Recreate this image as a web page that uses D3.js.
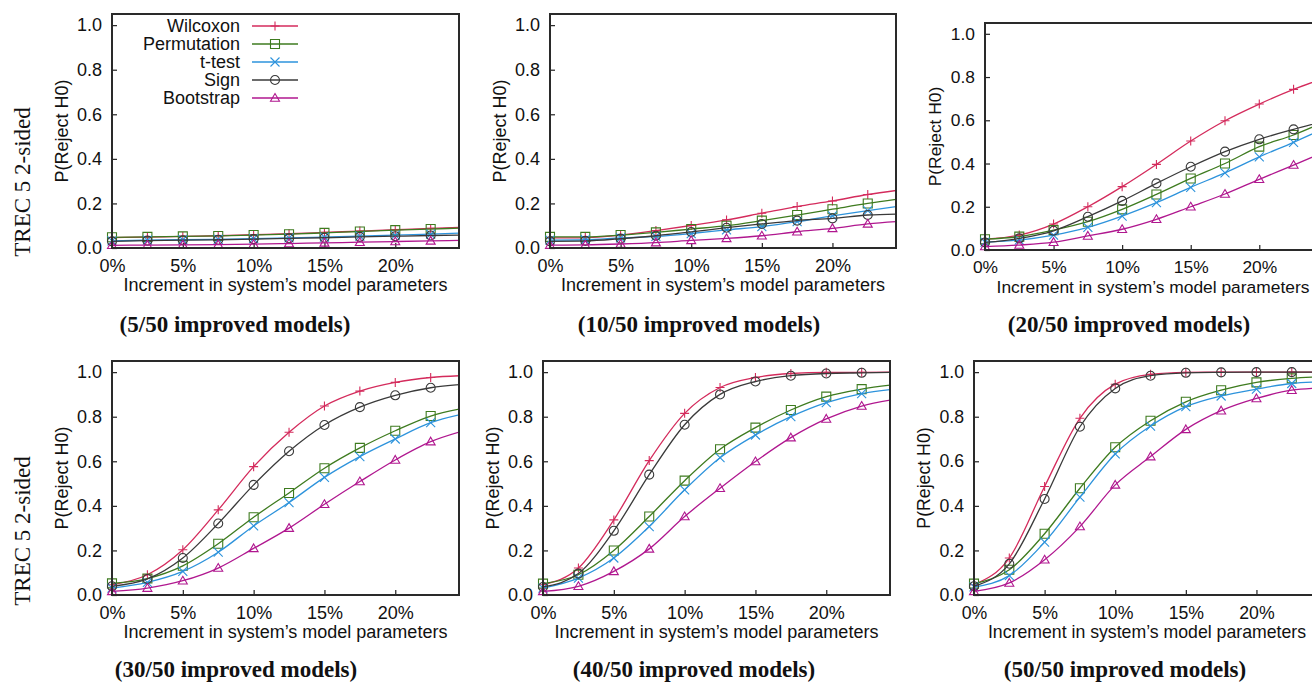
<!DOCTYPE html>
<html>
<head>
<meta charset="utf-8">
<script src="https://cdn.jsdelivr.net/npm/d3@7"></script>
<style>
  html, body { margin: 0; padding: 0; background: #fff; }
  svg { display: block; }
  .ax text { font-family: "Liberation Sans", Arial, sans-serif; fill: #111; }
</style>
</head>
<body>
<svg id="chart" width="1312" height="682"></svg>
<script>
// x values (% increment in model parameters) at which each curve is read
const increments = [0, 2.5, 5, 7.5, 10, 12.5, 15, 17.5, 20, 22.5, 25];
const improved = ["5/50", "10/50", "20/50", "30/50", "40/50", "50/50"];
const methods = ["Wilcoxon", "Permutation", "t-test", "Sign", "Bootstrap"];
const xTicks = [0, 5, 10, 15, 20];
const yTicks = [0, 0.2, 0.4, 0.6, 0.8, 1.0];

// one row per panel (5/50 ... 50/50), one value per increment
const wilcoxon = [
  [0.047, 0.049, 0.052, 0.055, 0.060, 0.064, 0.070, 0.076, 0.082, 0.088, 0.093],
  [0.045, 0.047, 0.058, 0.078, 0.101, 0.126, 0.156, 0.186, 0.211, 0.240, 0.262],
  [0.050, 0.069, 0.120, 0.200, 0.293, 0.396, 0.504, 0.598, 0.675, 0.743, 0.800],
  [0.046, 0.091, 0.203, 0.382, 0.576, 0.730, 0.848, 0.915, 0.954, 0.976, 0.985],
  [0.046, 0.121, 0.337, 0.603, 0.815, 0.931, 0.976, 0.994, 0.999, 0.999, 1.000],
  [0.046, 0.166, 0.487, 0.793, 0.946, 0.990, 0.999, 1.000, 1.000, 1.000, 1.000]
];
const permutation = [
  [0.048, 0.050, 0.052, 0.054, 0.058, 0.062, 0.068, 0.074, 0.080, 0.085, 0.090],
  [0.050, 0.050, 0.058, 0.070, 0.085, 0.100, 0.123, 0.148, 0.174, 0.200, 0.222],
  [0.050, 0.062, 0.092, 0.131, 0.188, 0.257, 0.331, 0.400, 0.478, 0.532, 0.600],
  [0.052, 0.074, 0.131, 0.230, 0.349, 0.458, 0.569, 0.660, 0.737, 0.803, 0.840],
  [0.051, 0.091, 0.200, 0.352, 0.513, 0.654, 0.751, 0.830, 0.890, 0.924, 0.945],
  [0.051, 0.113, 0.275, 0.479, 0.663, 0.782, 0.867, 0.919, 0.954, 0.972, 0.980]
];
const ttest = [
  [0.032, 0.035, 0.037, 0.039, 0.042, 0.045, 0.049, 0.053, 0.058, 0.062, 0.068],
  [0.035, 0.037, 0.045, 0.052, 0.065, 0.081, 0.096, 0.118, 0.144, 0.168, 0.190],
  [0.036, 0.046, 0.069, 0.105, 0.157, 0.219, 0.290, 0.357, 0.431, 0.498, 0.570],
  [0.031, 0.057, 0.106, 0.192, 0.310, 0.415, 0.528, 0.621, 0.700, 0.773, 0.815],
  [0.031, 0.076, 0.166, 0.307, 0.472, 0.616, 0.718, 0.800, 0.863, 0.904, 0.925],
  [0.036, 0.087, 0.237, 0.439, 0.633, 0.758, 0.845, 0.893, 0.924, 0.949, 0.957]
];
const sign = [
  [0.030, 0.033, 0.035, 0.037, 0.040, 0.043, 0.046, 0.050, 0.053, 0.056, 0.058],
  [0.030, 0.032, 0.042, 0.055, 0.072, 0.091, 0.108, 0.123, 0.133, 0.148, 0.153],
  [0.035, 0.054, 0.089, 0.154, 0.227, 0.308, 0.385, 0.455, 0.512, 0.558, 0.600],
  [0.039, 0.072, 0.166, 0.321, 0.494, 0.645, 0.763, 0.843, 0.896, 0.930, 0.946],
  [0.036, 0.096, 0.288, 0.540, 0.764, 0.900, 0.958, 0.984, 0.994, 0.997, 1.000],
  [0.039, 0.140, 0.431, 0.755, 0.927, 0.984, 0.997, 0.999, 1.000, 1.000, 1.000]
];
const bootstrap = [
  [0.012, 0.013, 0.014, 0.015, 0.017, 0.020, 0.023, 0.026, 0.029, 0.032, 0.035],
  [0.013, 0.014, 0.018, 0.024, 0.034, 0.043, 0.055, 0.073, 0.088, 0.108, 0.120],
  [0.016, 0.023, 0.036, 0.065, 0.096, 0.142, 0.200, 0.259, 0.327, 0.393, 0.460],
  [0.016, 0.031, 0.064, 0.121, 0.209, 0.300, 0.407, 0.509, 0.606, 0.688, 0.740],
  [0.016, 0.039, 0.106, 0.207, 0.352, 0.479, 0.599, 0.706, 0.790, 0.848, 0.880],
  [0.016, 0.054, 0.158, 0.307, 0.494, 0.621, 0.743, 0.827, 0.882, 0.919, 0.930]
];

const seriesValues = [wilcoxon, permutation, ttest, sign, bootstrap];
const colors = ["#d42b5c", "#3e7b1f", "#2d93dc", "#3a3a3a", "#b0178f"];
const shapes = ["plus", "square", "cross", "circle", "triangle"];

// plot boxes of the six sub-figures, as they sit on the page
const layout = [
  { left: 112, right: 459, top: 14, bottom: 248, capX: 235, capY: 332, font: 18 },
  { left: 550, right: 896, top: 14, bottom: 248, capX: 699, capY: 332, font: 18 },
  { left: 985, right: 1321, top: 23, bottom: 250, capX: 1129, capY: 332, font: 17.4 },
  { left: 112, right: 459, top: 361, bottom: 595, capX: 236, capY: 677, font: 18 },
  { left: 543, right: 890, top: 361, bottom: 595, capX: 694, capY: 677, font: 18 },
  { left: 974, right: 1320, top: 361, bottom: 595, capX: 1125, capY: 677, font: 17.7 }
];

const svg = d3.select("#chart");

function markerPath(shape, s) {
  switch (shape) {
    case "plus": return `M${-s},0H${s}M0,${-s}V${s}`;
    case "square": return `M${-s},${-s}H${s}V${s}H${-s}Z`;
    case "cross": return `M${-s},${-s}L${s},${s}M${-s},${s}L${s},${-s}`;
    case "circle": return `M${s},0A${s},${s} 0 1,1 ${-s},0A${s},${s} 0 1,1 ${s},0Z`;
    default: return `M0,${-s}L${s},${s * 0.72}L${-s},${s * 0.72}Z`;
  }
}

function drawPanel(p, i) {
  const x = d3.scaleLinear().domain([0, 24.5]).range([p.left, p.right]);
  const y = d3.scaleLinear().domain([0, 1.05]).range([p.bottom, p.top]);
  const g = svg.append("g").attr("class", "ax").style("font-size", p.font + "px");

  g.append("clipPath").attr("id", "clip" + i)
    .append("rect")
    .attr("x", p.left).attr("y", p.top)
    .attr("width", p.right - p.left).attr("height", p.bottom - p.top);

  const yAxis = g.append("g")
    .attr("transform", `translate(${p.left},0)`)
    .call(d3.axisLeft(y).tickValues(yTicks).tickSize(-5).tickPadding(10).tickFormat(d3.format(".1f")));
  const xAxis = g.append("g")
    .attr("transform", `translate(0,${p.bottom})`)
    .call(d3.axisBottom(x).tickValues(xTicks).tickSize(-5).tickPadding(11).tickFormat(d => d + "%"));
  [yAxis, xAxis].forEach(a => {
    a.attr("font-size", null).attr("font-family", null);
    a.select(".domain").remove();
    a.selectAll("line").attr("stroke", "#222").attr("stroke-width", 1.2);
    a.selectAll("text").attr("fill", "#111");
  });

  g.append("text")
    .attr("transform", `translate(${p.left - 50},${(p.top + p.bottom) / 2}) rotate(-90)`)
    .attr("text-anchor", "middle")
    .attr("dy", "0.35em")
    .text("P(Reject H0)");

  g.append("text")
    .attr("x", (p.left + p.right) / 2)
    .attr("y", p.bottom + 43)
    .attr("text-anchor", "middle")
    .text("Increment in system\u2019s model parameters");

  const line = d3.line()
    .x((d, k) => x(increments[k]))
    .y(d => y(d))
    .curve(d3.curveMonotoneX);

  const plot = g.append("g");
  seriesValues.forEach((vals, m) => {
    plot.append("path")
      .attr("clip-path", `url(#clip${i})`)
      .attr("d", line(vals[i]))
      .attr("fill", "none")
      .attr("stroke", colors[m])
      .attr("stroke-width", 1.3);
    plot.selectAll(null)
      .data(vals[i].map((v, k) => [increments[k], v]).filter(d => d[0] <= 24.5))
      .join("path")
      .attr("transform", d => `translate(${x(d[0])},${y(d[1])})`)
      .attr("d", markerPath(shapes[m], 4.5))
      .attr("fill", "none")
      .attr("stroke", colors[m])
      .attr("stroke-width", 1.1);
  });

  g.append("rect")
    .attr("x", p.left).attr("y", p.top)
    .attr("width", p.right - p.left).attr("height", p.bottom - p.top)
    .attr("fill", "none")
    .attr("stroke", "#2a2a2a")
    .attr("stroke-width", 2);

  svg.append("text")
    .attr("x", p.capX).attr("y", p.capY)
    .attr("text-anchor", "middle")
    .attr("font-family", "'Liberation Serif', 'Times New Roman', serif")
    .attr("font-weight", "bold")
    .attr("font-size", 23)
    .attr("fill", "#111")
    .text(`(${improved[i]} improved models)`);

  if (i === 0) {
    const legend = g.append("g");
    methods.forEach((name, m) => {
      const ly = 26 + m * 18;
      legend.append("text")
        .attr("x", 240).attr("y", ly)
        .attr("dy", "0.35em")
        .attr("text-anchor", "end")
        .text(name);
      legend.append("line")
        .attr("x1", 252).attr("x2", 298)
        .attr("y1", ly).attr("y2", ly)
        .attr("stroke", colors[m])
        .attr("stroke-width", 1.3);
      legend.append("path")
        .attr("transform", `translate(275,${ly})`)
        .attr("d", markerPath(shapes[m], 4.5))
        .attr("fill", "none")
        .attr("stroke", colors[m])
        .attr("stroke-width", 1.1);
    });
  }
}

layout.forEach(drawPanel);

// row labels on the far left
[182, 531].forEach(cy => {
  svg.append("text")
    .attr("transform", `translate(22,${cy}) rotate(-90)`)
    .attr("text-anchor", "middle")
    .attr("dy", "0.35em")
    .attr("font-family", "'Liberation Serif', 'Times New Roman', serif")
    .attr("font-size", 23)
    .attr("fill", "#111")
    .text("TREC 5 2-sided");
});
</script>
</body>
</html>
